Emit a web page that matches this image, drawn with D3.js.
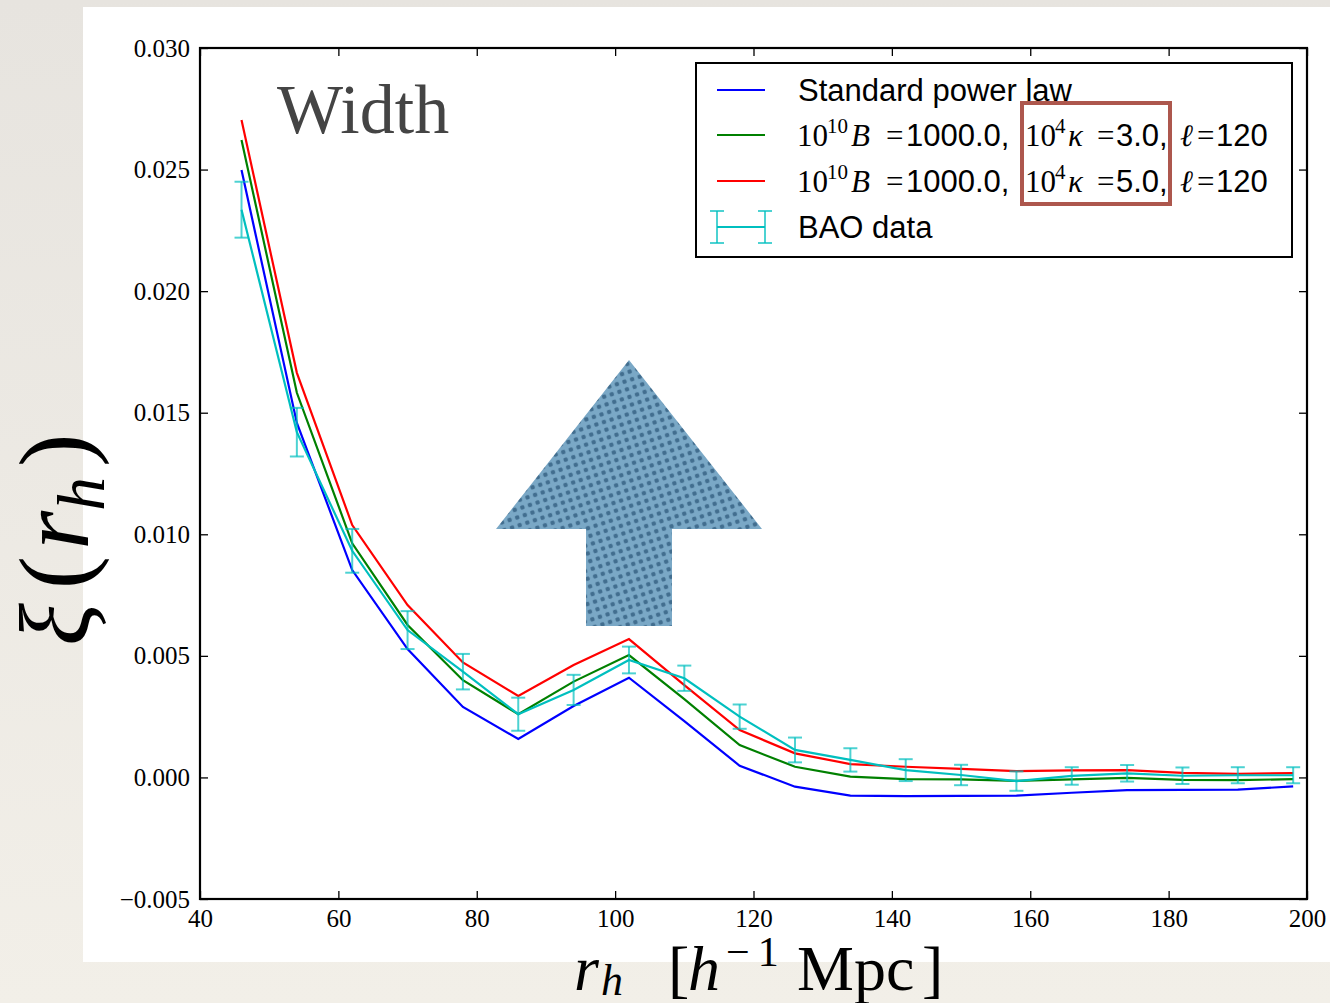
<!DOCTYPE html>
<html>
<head>
<meta charset="utf-8">
<script src="https://cdn.jsdelivr.net/npm/d3@7"></script>
<style>
    html, body { margin: 0; padding: 0; }
    body { width: 1330px; height: 1003px; overflow: hidden; background: #ece9e3; }
    svg { display: block; }
</style>
</head>
<body>
<div id="chart"></div>
<script>
// separation r_h in h^-1 Mpc
const rh = [46, 54, 62, 70, 78, 86, 94, 102, 110, 118, 126, 134, 142, 150, 158, 166, 174, 182, 190, 198];

const powerLaw = [0.02498, 0.01458, 0.00853, 0.00528, 0.0029, 0.00158, 0.00294, 0.0041, 0.00232, 0.00048,
    -0.00038, -0.00075, -0.00077, -0.00076, -0.00075, -0.00063, -0.00052, -0.00051, -0.0005, -0.00037];
const kappa3 = [0.02622, 0.01582, 0.00963, 0.00627, 0.0040, 0.0026, 0.00394, 0.00503, 0.00322, 0.00133,
    0.00044, 0.00003, -0.00007, -0.00008, -0.00014, -0.00008, -0.00002, -0.0001, -0.00011, -0.00007];
const kappa5 = [0.02704, 0.01664, 0.01038, 0.00709, 0.00473, 0.00335, 0.00462, 0.00569, 0.0038, 0.00195,
    0.00099, 0.00055, 0.00044, 0.00035, 0.00026, 0.00029, 0.0003, 0.00019, 0.00015, 0.00018];
const bao = [0.02335, 0.0142, 0.00932, 0.00606, 0.00435, 0.0026, 0.0036, 0.00483, 0.00408, 0.0025,
    0.00113, 0.00072, 0.0003, 0.0001, -0.00015, 0.00006, 0.00017, 0.00007, 0.00009, 0.00009];
const baoErr = [0.00115, 0.001, 0.0009, 0.00078, 0.00073, 0.00068, 0.00062, 0.00055, 0.00052, 0.0005,
    0.00051, 0.00048, 0.00045, 0.00042, 0.0004, 0.00036, 0.00034, 0.00034, 0.00033, 0.00033];

const xTicks = [40, 60, 80, 100, 120, 140, 160, 180, 200];
const yTicks = [-0.005, 0.000, 0.005, 0.010, 0.015, 0.020, 0.025, 0.030];
const kappaValues = ["3.0", "5.0"];

const W = 1330, H = 1003;
const plot = {left: 200, right: 1307, top: 48, bottom: 899};
const serif = "'Liberation Serif', 'DejaVu Serif', serif";
const sans = "'Liberation Sans', Arial, sans-serif";

const svg = d3.select("#chart").append("svg")
    .attr("width", W)
    .attr("height", H);

const defs = svg.append("defs");

const bg = defs.append("linearGradient")
    .attr("id", "bg")
    .attr("x1", 0).attr("y1", 0).attr("x2", 0).attr("y2", 1);
bg.append("stop").attr("offset", "0%").attr("stop-color", "#e7e4df");
bg.append("stop").attr("offset", "100%").attr("stop-color", "#f2efe8");

// dotted texture of the arrow
const pat = defs.append("pattern")
    .attr("id", "dots")
    .attr("width", 8).attr("height", 8)
    .attr("patternUnits", "userSpaceOnUse")
    .attr("patternTransform", "rotate(-18)");
pat.append("rect").attr("width", 8).attr("height", 8).attr("fill", "#7aa8c6");
pat.append("circle").attr("cx", 4).attr("cy", 4).attr("r", 2.3).attr("fill", "#426e8f");

svg.append("rect")
    .attr("width", W).attr("height", H)
    .attr("fill", "url(#bg)");

svg.append("rect")
    .attr("x", 83).attr("y", 7)
    .attr("width", W - 83).attr("height", 955)
    .attr("fill", "#fff");

const x = d3.scaleLinear().domain([40, 200]).range([plot.left, plot.right]);
const y = d3.scaleLinear().domain([-0.005, 0.030]).range([plot.bottom, plot.top]);

// axes, ticks pointing inwards
function styleAxis(g){
    g.select(".domain").remove();
    g.selectAll(".tick line").attr("stroke", "#000").attr("stroke-width", 1.3);
    g.selectAll(".tick text")
        .attr("fill", "#000")
        .style("font-family", serif)
        .style("font-size", "25px");
}

svg.append("g")
    .attr("transform", `translate(0,${plot.bottom})`)
    .call(d3.axisBottom(x).tickValues(xTicks).tickSize(-8).tickPadding(10).tickFormat(d3.format("d")))
    .call(styleAxis);

svg.append("g")
    .attr("transform", `translate(0,${plot.top})`)
    .call(d3.axisTop(x).tickValues(xTicks).tickSize(-8).tickFormat(""))
    .call(styleAxis);

svg.append("g")
    .attr("transform", `translate(${plot.left},0)`)
    .call(d3.axisLeft(y).tickValues(yTicks).tickSize(-8).tickPadding(10).tickFormat(d3.format(".3f")))
    .call(styleAxis);

svg.append("g")
    .attr("transform", `translate(${plot.right},0)`)
    .call(d3.axisRight(y).tickValues(yTicks).tickSize(-8).tickFormat(""))
    .call(styleAxis);

// the arrow
const arrow = [[629, 360], [762, 529], [672, 529], [672, 626], [586, 626], [586, 529], [496, 529]];
svg.append("polygon")
    .attr("points", arrow.map(p => p.join(",")).join(" "))
    .attr("fill", "url(#dots)");

const line = d3.line()
    .x(d => x(d[0]))
    .y(d => y(d[1]));

const series = [
    {values: powerLaw, color: "#0000ff"},
    {values: kappa3, color: "#008000"},
    {values: kappa5, color: "#ff0000"}
];

series.forEach(s => {
    svg.append("path")
        .datum(rh.map((r, i) => [r, s.values[i]]))
        .attr("d", line)
        .attr("fill", "none")
        .attr("stroke", s.color)
        .attr("stroke-width", 2.2);
});

// BAO data with error bars
const cyan = "#00bfbf";
const errG = svg.append("g")
    .attr("stroke", cyan)
    .attr("stroke-opacity", 0.7)
    .attr("stroke-width", 2);

const bars = errG.selectAll("g")
    .data(rh.map((r, i) => ({r: r, v: bao[i], e: baoErr[i]})))
    .join("g");

bars.append("line")
    .attr("x1", d => x(d.r)).attr("x2", d => x(d.r))
    .attr("y1", d => y(d.v - d.e)).attr("y2", d => y(d.v + d.e));
bars.append("line")
    .attr("x1", d => x(d.r) - 7).attr("x2", d => x(d.r) + 7)
    .attr("y1", d => y(d.v + d.e)).attr("y2", d => y(d.v + d.e));
bars.append("line")
    .attr("x1", d => x(d.r) - 7).attr("x2", d => x(d.r) + 7)
    .attr("y1", d => y(d.v - d.e)).attr("y2", d => y(d.v - d.e));

svg.append("path")
    .datum(rh.map((r, i) => [r, bao[i]]))
    .attr("d", line)
    .attr("fill", "none")
    .attr("stroke", cyan)
    .attr("stroke-width", 2.2);

// frame
svg.append("rect")
    .attr("x", plot.left).attr("y", plot.top)
    .attr("width", plot.right - plot.left).attr("height", plot.bottom - plot.top)
    .attr("fill", "none")
    .attr("stroke", "#000")
    .attr("stroke-width", 2.2);

// title
svg.append("text")
    .attr("x", 277).attr("y", 133)
    .attr("fill", "#444")
    .style("font-family", serif)
    .style("font-size", "70px")
    .text("Width");

// legend
const legend = svg.append("g");
legend.append("rect")
    .attr("x", 696).attr("y", 63)
    .attr("width", 596).attr("height", 194)
    .attr("fill", "#fff")
    .attr("stroke", "#000")
    .attr("stroke-width", 2);

const rowY = [90, 135, 181, 227];
const legendColors = ["#0000ff", "#008000", "#ff0000"];

legendColors.forEach((c, i) => {
    legend.append("line")
        .attr("x1", 717).attr("x2", 765)
        .attr("y1", rowY[i]).attr("y2", rowY[i])
        .attr("stroke", c).attr("stroke-width", 2.2);
});

const icon = legend.append("g").attr("stroke", cyan);
icon.append("line").attr("x1", 717).attr("x2", 765).attr("y1", rowY[3]).attr("y2", rowY[3]).attr("stroke-width", 2.2);
[717, 765].forEach(px => {
    icon.append("line").attr("x1", px).attr("x2", px).attr("y1", rowY[3] - 16).attr("y2", rowY[3] + 16)
        .attr("stroke-width", 2).attr("stroke-opacity", 0.7);
    icon.append("line").attr("x1", px - 7).attr("x2", px + 7).attr("y1", rowY[3] - 16).attr("y2", rowY[3] - 16)
        .attr("stroke-width", 2).attr("stroke-opacity", 0.7);
    icon.append("line").attr("x1", px - 7).attr("x2", px + 7).attr("y1", rowY[3] + 16).attr("y2", rowY[3] + 16)
        .attr("stroke-width", 2).attr("stroke-opacity", 0.7);
});

function plainText(tx, ty, str){
    legend.append("text")
        .attr("x", tx).attr("y", ty)
        .style("font-family", sans)
        .style("font-size", "31px")
        .text(str);
}

// pieces: [text, kind, x] where kind is "rm", "it", "sup" or "sf"
function mathText(ty, pieces){
    const t = legend.append("text")
        .attr("y", ty)
        .style("font-size", "31px");
    let raised = false;
    pieces.forEach(([str, kind, px]) => {
        const s = t.append("tspan").attr("x", px).text(str);
        if(kind === "sup"){
            s.attr("dy", -13).style("font-size", "21px").style("font-family", serif);
            raised = true;
            return;
        }
        if(raised){
            s.attr("dy", 13);
            raised = false;
        }
        if(kind === "sf"){
            s.style("font-family", sans);
        } else {
            s.style("font-family", serif);
            if(kind === "it") s.style("font-style", "italic");
        }
    });
}

plainText(798, rowY[0] + 11, "Standard power law");

kappaValues.forEach((k, i) => {
    mathText(rowY[i + 1] + 11, [
        ["10", "rm", 797], ["10", "sup", 827], ["B", "it", 851], ["=", "rm", 886], ["1000.0,", "sf", 906],
        ["10", "rm", 1025], ["4", "sup", 1055], ["κ", "it", 1068], ["=", "rm", 1097], [k + ",", "sf", 1116],
        ["ℓ", "it", 1180], ["=", "rm", 1197], ["120", "sf", 1216]
    ]);
});

plainText(798, rowY[3] + 11, "BAO data");

// highlight box
svg.append("rect")
    .attr("x", 1022).attr("y", 103)
    .attr("width", 148).attr("height", 101)
    .attr("fill", "none")
    .attr("stroke", "#ad574d")
    .attr("stroke-width", 4);

// axis labels
const xLabel = svg.append("text")
    .attr("y", 990)
    .style("font-family", serif)
    .style("font-size", "64px");
xLabel.append("tspan").attr("x", 574).style("font-style", "italic").text("r");
xLabel.append("tspan").attr("x", 601).attr("dy", 5).style("font-style", "italic").style("font-size", "44px").text("h");
xLabel.append("tspan").attr("x", 668).attr("dy", -5).text("[");
xLabel.append("tspan").attr("x", 688).style("font-style", "italic").text("h");
xLabel.append("tspan").attr("x", 726).attr("dy", -24).style("font-size", "42px").style("letter-spacing", "8px").text("−1");
xLabel.append("tspan").attr("x", 797).attr("dy", 24).text("Mpc");
xLabel.append("tspan").attr("x", 922).text("]");

const yLabel = svg.append("text")
    .attr("transform", "translate(88,646) rotate(-90)")
    .style("font-family", serif)
    .style("font-size", "100px");
yLabel.append("tspan").style("font-style", "italic").text("ξ");
yLabel.append("tspan").attr("dx", 14).text("(");
yLabel.append("tspan").attr("dx", 6).style("font-style", "italic").text("r");
yLabel.append("tspan").attr("dy", 16).style("font-style", "italic").style("font-size", "68px").text("h");
yLabel.append("tspan").attr("dx", 10).attr("dy", -16).text(")");
</script>
</body>
</html>
